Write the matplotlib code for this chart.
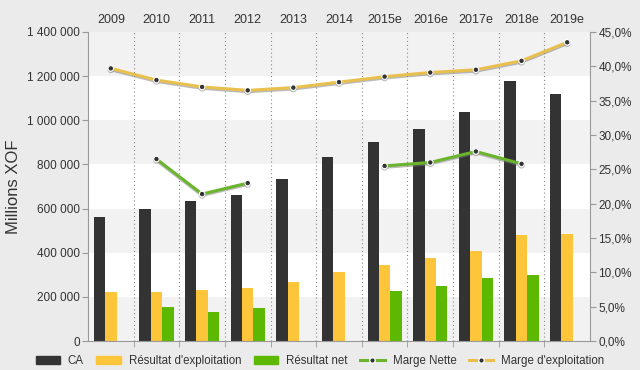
import matplotlib
matplotlib.use("Agg")
import matplotlib.pyplot as plt
import matplotlib.patheffects as pe
from matplotlib.patches import Patch
from matplotlib.lines import Line2D
from matplotlib.ticker import FuncFormatter
import numpy as np

plt.rcParams['font.family'] = ['Liberation Sans', 'DejaVu Sans']

years = ["2009", "2010", "2011", "2012", "2013", "2014", "2015e", "2016e", "2017e", "2018e", "2019e"]
ca = [561000, 598000, 635000, 661000, 736000, 835000, 900000, 962000, 1038000, 1179000, 1119000]
res_exploit = [220000, 223000, 232000, 241000, 268000, 314000, 345000, 374000, 407000, 480000, 486000]
res_net = [None, 154000, 132000, 151000, None, None, 227000, 247000, 284000, 300000, None]
marge_nette = [None, 26.5, 21.4, 23.0, None, None, 25.5, 26.0, 27.6, 25.8, None]
marge_exploit = [39.7, 38.0, 37.0, 36.5, 36.9, 37.7, 38.5, 39.1, 39.5, 40.8, 43.5]

c_ca = "#333333"
c_re = "#fdc63a"
c_rn = "#5cb800"
c_mn = "#6ab52c"
c_me = "#e9c04e"
txt = "#333333"
axc = "#999999"

fig = plt.figure(figsize=(6.4, 3.7), dpi=100, facecolor="#ebebeb")
ax = fig.add_axes([88/640, 1-341/370, (590-88)/640, (341-32)/370])
ax.set_facecolor("white")

x = np.arange(len(years))
w = 0.25

# bands
for i, lo in enumerate(range(0, 1400000, 200000)):
    if i % 2 == 0:
        ax.axhspan(lo, lo + 200000, color="#f2f2f2", zorder=0, lw=0)

for b in np.arange(0.5, len(years) - 0.5, 1):
    ax.axvline(b, color="#888888", lw=0.8, ls=(0, (1, 2.5)), zorder=1)

ax.bar(x - w, ca, w, color=c_ca, zorder=2)
ax.bar(x, res_exploit, w, color=c_re, zorder=2)
rn_x = [xi + w for xi, v in zip(x, res_net) if v is not None]
rn_v = [v for v in res_net if v is not None]
ax.bar(rn_x, rn_v, w, color=c_rn, zorder=2)

ax.set_xlim(-0.5, len(years) - 0.5)
ax.set_ylim(0, 1400000)
ax.set_yticks(range(0, 1400001, 200000))
ax.yaxis.set_major_formatter(FuncFormatter(lambda v, p: f"{int(v):,}".replace(",", " ")))
ax.set_xticks(x, labels=years)
ax.tick_params(axis='x', which='major', top=True, labeltop=True, bottom=False, labelbottom=False,
               length=0, pad=4, labelsize=9, colors=txt)
ax.set_xticks(np.arange(0.5, len(years) - 0.5, 1), minor=True)
ax.tick_params(axis='x', which='minor', bottom=True, top=False, length=4, color=axc)
ax.tick_params(axis='y', length=4, color=axc, labelsize=8.5, labelcolor=txt, pad=2)
ax.set_ylabel("Millions XOF", fontsize=12, color=txt, labelpad=4)
for s in ["top", "right"]:
    ax.spines[s].set_visible(False)
for s in ["left", "bottom"]:
    ax.spines[s].set_color(axc)

ax2 = ax.twinx()
ax2.set_ylim(0, 45)
ax2.set_yticks(range(0, 46, 5))
ax2.yaxis.set_major_formatter(FuncFormatter(lambda v, p: f"{v:.1f}".replace(".", ",") + "%"))
ax2.tick_params(axis='y', length=4, color=axc, labelsize=8.5, labelcolor=txt, pad=2)
for s in ["top", "left", "bottom"]:
    ax2.spines[s].set_visible(False)
ax2.spines["right"].set_color(axc)

shadow = [pe.SimpleLineShadow(offset=(0, -1), shadow_color="#777777", alpha=0.5), pe.Normal()]

mn = np.array([np.nan if v is None else v for v in marge_nette], dtype=float)
ax2.plot(x, mn, color=c_mn, lw=2.2, zorder=3, path_effects=shadow,
         marker='o', ms=4, mfc="#333333", mec="white", mew=0.8)
ax2.plot(x, marge_exploit, color=c_me, lw=2.2, zorder=3, path_effects=shadow,
         marker='o', ms=4, mfc="#333333", mec="white", mew=0.8)

handles = [
    Patch(color=c_ca, label="CA"),
    Patch(color=c_re, label="Résultat d'exploitation"),
    Patch(color=c_rn, label="Résultat net"),
    Line2D([], [], color=c_mn, lw=2.2, marker='o', ms=4, mfc="#333333", mec="white", label="Marge Nette"),
    Line2D([], [], color=c_me, lw=2.2, marker='o', ms=4, mfc="#333333", mec="white", label="Marge d'exploitation"),
]
leg = fig.legend(handles=handles, loc="center", bbox_to_anchor=(0.5, 1-361/370), ncol=5, frameon=False,
                 fontsize=8.3, handlelength=2.1, handleheight=0.8, columnspacing=1.1, handletextpad=0.7)
for t in leg.get_texts():
    t.set_color(txt)

fig.savefig("out.png", dpi=100, facecolor=fig.get_facecolor())
